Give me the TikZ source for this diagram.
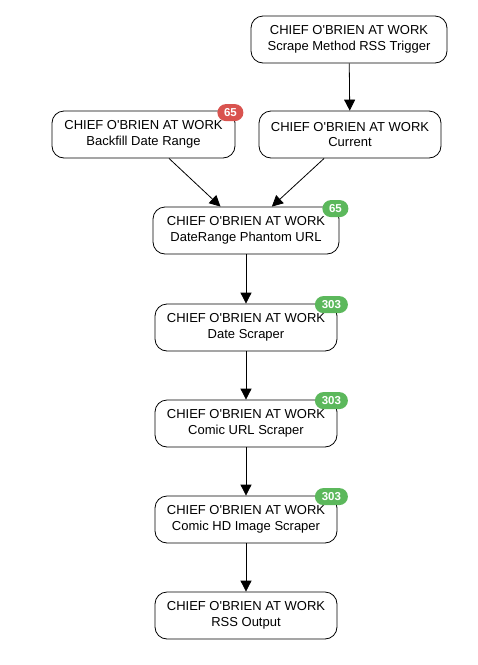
\documentclass[tikz,border=0pt]{standalone}
\usepackage{fontspec}
\setmainfont{Liberation Sans}
\usetikzlibrary{arrows.meta}
\definecolor{badgered}{HTML}{D9534F}
\definecolor{badgegreen}{HTML}{5CB85C}
\newcommand{\chiefob}{CHIEF O\textquotesingle BRIEN AT WORK}

\begin{document}
\begin{tikzpicture}[x=1pt, y=-1pt,
		box/.style={draw, thick, rounded corners=12pt, align=center, minimum height=47pt, inner sep=0pt, font=\fontsize{13}{15.5}\selectfont},
		badge/.style={rounded corners=8.5pt, text=white, font=\fontsize{11.5}{11.5}\selectfont\bfseries, minimum height=17pt, inner sep=0pt},
		arr/.style={thick, -{Triangle[length=11pt, width=11pt]}}]
			\useasboundingbox (0, 0) rectangle (478, 665);

			\draw (349, 39.5) 	node[box, minimum width=196pt] 	(trigger) 	{\chiefob\\Scrape Method RSS Trigger};
			\draw (143.5, 134.5) 	node[box, minimum width=183pt] 	(backfill) 	{\chiefob\\Backfill Date Range};
			\draw (350, 134.5) 	node[box, minimum width=182pt] 	(current) 	{\chiefob\\Current};
			\draw (246, 230.5) 	node[box, minimum width=186pt] 	(phantom) 	{\chiefob\\DateRange Phantom URL};
			\draw (246, 327.5) 	node[box, minimum width=182pt] 	(date) 		{\chiefob\\Date Scraper};
			\draw (246, 423.5) 	node[box, minimum width=182pt] 	(comic_url) 	{\chiefob\\Comic URL Scraper};
			\draw (246, 519.5) 	node[box, minimum width=182pt] 	(comic_hd) 	{\chiefob\\Comic HD Image Scraper};
			\draw (246, 615.5) 	node[box, minimum width=182pt] 	(rss) 		{\chiefob\\RSS Output};

			\draw ([xshift=-5pt, yshift=-2pt]backfill.north east) 	node[badge, fill=badgered, minimum width=26pt] 		(backfill_n) 	{65};
			\draw ([xshift=-4pt, yshift=-2pt]phantom.north east) 	node[badge, fill=badgegreen, minimum width=26pt] 	(phantom_n) 	{65};
			\draw ([xshift=-6pt, yshift=-1pt]date.north east) 	node[badge, fill=badgegreen, minimum width=33pt] 	(date_n) 	{303};
			\draw ([xshift=-6pt, yshift=-1pt]comic_url.north east) 	node[badge, fill=badgegreen, minimum width=33pt] 	(comic_url_n) 	{303};
			\draw ([xshift=-6pt, yshift=-1pt]comic_hd.north east) 	node[badge, fill=badgegreen, minimum width=33pt] 	(comic_hd_n) 	{303};

			\draw[arr] (trigger) -- (current);
			\draw[arr] (backfill) -- (phantom);
			\draw[arr] (current) -- (phantom);
			\draw[arr] (phantom) -- (date);
			\draw[arr] (date) -- (comic_url);
			\draw[arr] (comic_url) -- (comic_hd);
			\draw[arr] (comic_hd) -- (rss);
		\end{tikzpicture}
\end{document}
